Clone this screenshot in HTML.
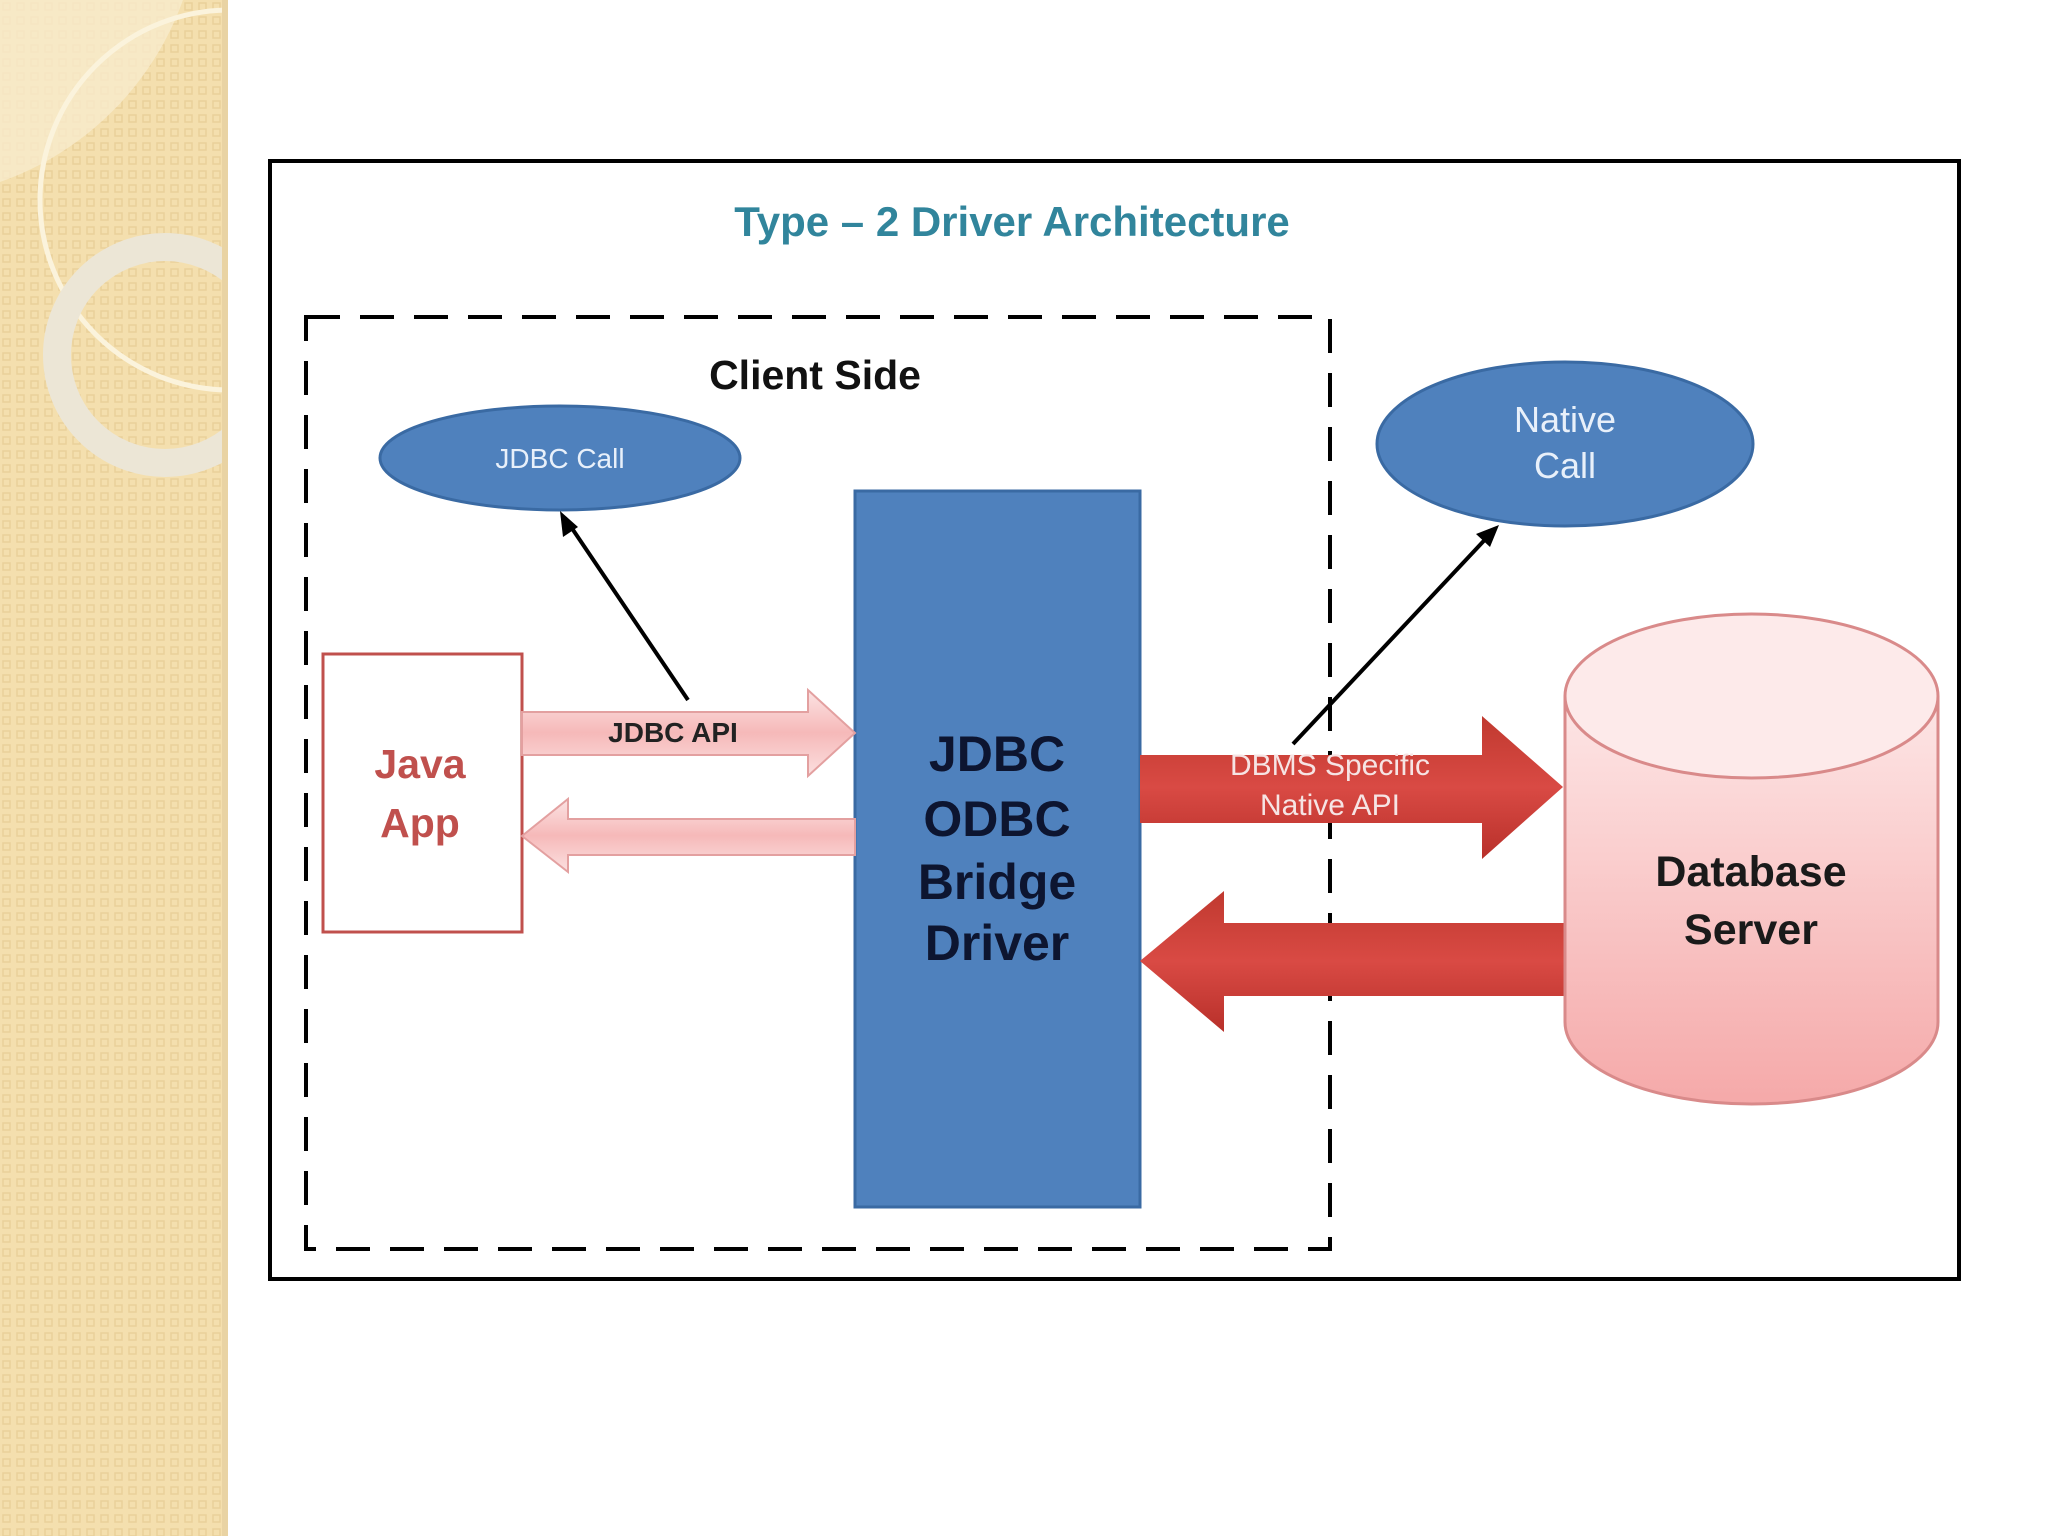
<!DOCTYPE html>
<html><head><meta charset="utf-8"><style>
html,body{margin:0;padding:0;background:#fff;}
body{width:2048px;height:1536px;position:relative;overflow:hidden;font-family:"Liberation Sans",sans-serif;}
</style></head><body>
<svg width="2048" height="1536" viewBox="0 0 2048 1536" xmlns="http://www.w3.org/2000/svg" style="position:absolute;left:0;top:0">
<defs>
<pattern id="pt" width="14" height="14" patternUnits="userSpaceOnUse">
<rect width="14" height="14" fill="#f4dfae"/>
<rect x="3" y="3" width="7" height="7" fill="none" stroke="#ead09a" stroke-width="1.5"/>
</pattern>
<linearGradient id="pk" x1="0" y1="0" x2="0" y2="1">
<stop offset="0" stop-color="#fbe3e3"/><stop offset="0.5" stop-color="#f6b9b9"/><stop offset="1" stop-color="#fbe0e0"/>
</linearGradient>
<linearGradient id="rd" x1="0" y1="0" x2="0" y2="1">
<stop offset="0" stop-color="#c0392f"/><stop offset="0.5" stop-color="#d94a44"/><stop offset="1" stop-color="#b8302a"/>
</linearGradient>
<linearGradient id="cy" x1="0" y1="0" x2="0" y2="1">
<stop offset="0" stop-color="#fde6e6"/><stop offset="1" stop-color="#f5a9a9"/>
</linearGradient>
<clipPath id="sb"><rect x="0" y="0" width="227" height="1536"/></clipPath>
</defs>
<rect x="0" y="0" width="227" height="1536" fill="url(#pt)"/>
<g clip-path="url(#sb)">
<path d="M0 0 H183 A300 300 0 0 1 0 182 Z" fill="#f8ebcc" opacity="0.8"/>
<circle cx="230" cy="200" r="190" fill="none" stroke="#fbf3dc" stroke-width="5"/>
<circle cx="165" cy="355" r="108" fill="none" stroke="#ece6d6" stroke-width="28"/>
</g>
<rect x="222" y="0" width="6" height="1536" fill="#e9d3a3"/>

<rect x="270" y="161" width="1689" height="1118" fill="#fff" stroke="#000" stroke-width="4"/>
<text x="1012" y="236" text-anchor="middle" font-size="42" font-weight="bold" fill="#31859c">Type – 2 Driver Architecture</text>
<rect x="306" y="317" width="1024" height="932" fill="none" stroke="#000" stroke-width="4" stroke-dasharray="34,20"/>
<text x="815" y="389" text-anchor="middle" font-size="41" font-weight="bold" fill="#111">Client Side</text>

<ellipse cx="560" cy="458" rx="180" ry="52" fill="#4f81bd" stroke="#3a6aa3" stroke-width="3"/>
<text x="560" y="468" text-anchor="middle" font-size="28" fill="#e8f0fa">JDBC Call</text>
<ellipse cx="1565" cy="444" rx="188" ry="82" fill="#4f81bd" stroke="#3a6aa3" stroke-width="3"/>
<text x="1565" y="432" text-anchor="middle" font-size="36" fill="#e8f0fa">Native</text>
<text x="1565" y="478" text-anchor="middle" font-size="36" fill="#e8f0fa">Call</text>

<rect x="855" y="491" width="285" height="716" fill="#4f81bd" stroke="#3a6aa3" stroke-width="3"/>
<g font-size="50" font-weight="bold" fill="#0d1530" text-anchor="middle">
<text x="997" y="771">JDBC</text><text x="997" y="836">ODBC</text><text x="997" y="899">Bridge</text><text x="997" y="960">Driver</text>
</g>

<rect x="323" y="654" width="199" height="278" fill="#fff" stroke="#c0504d" stroke-width="3"/>
<text x="420" y="778" text-anchor="middle" font-size="41" font-weight="bold" fill="#c0504d">Java</text>
<text x="420" y="837" text-anchor="middle" font-size="41" font-weight="bold" fill="#c0504d">App</text>

<polygon points="522,712 808,712 808,690 855,733 808,776 808,755 522,755" fill="url(#pk)" stroke="#e3a0a0" stroke-width="2"/>
<text x="673" y="742" text-anchor="middle" font-size="28" font-weight="bold" fill="#222">JDBC API</text>
<polygon points="855,819 568,819 568,799 522,836 568,872 568,855 855,855" fill="url(#pk)" stroke="#e3a0a0" stroke-width="2"/>

<polygon points="1140,755 1482,755 1482,716 1563,787 1482,859 1482,823 1140,823" fill="url(#rd)"/>
<text x="1330" y="775" text-anchor="middle" font-size="30" fill="#f6e4e4">DBMS Specific</text>
<text x="1330" y="815" text-anchor="middle" font-size="30" fill="#f6e4e4">Native API</text>
<polygon points="1567,923 1224,923 1224,891 1140,961 1224,1032 1224,996 1567,996" fill="url(#rd)"/>

<line x1="688" y1="700" x2="565" y2="518" stroke="#000" stroke-width="4"/>
<polygon points="560,511 563,537 578,527" fill="#000"/>
<line x1="1293" y1="744" x2="1494" y2="530" stroke="#000" stroke-width="4"/>
<polygon points="1499,525 1476,534 1490,547" fill="#000"/>

<path d="M1565 696 V1022 A186.5 82 0 0 0 1938 1022 V696" fill="url(#cy)" stroke="#d98a8a" stroke-width="3"/>
<ellipse cx="1751.5" cy="696" rx="186.5" ry="82" fill="#fdeaea" stroke="#d98a8a" stroke-width="3"/>
<text x="1751" y="886" text-anchor="middle" font-size="43" font-weight="bold" fill="#1a1a1a">Database</text>
<text x="1751" y="944" text-anchor="middle" font-size="43" font-weight="bold" fill="#1a1a1a">Server</text>
</svg>
</body></html>
